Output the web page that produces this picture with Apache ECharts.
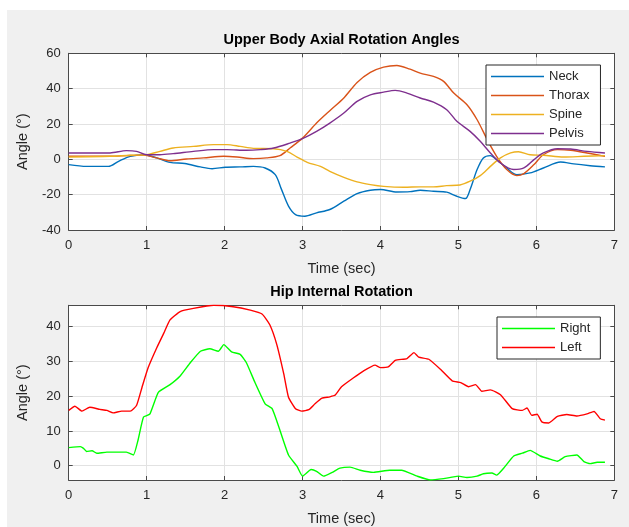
<!DOCTYPE html>
<html>
<head>
<meta charset="utf-8">
<script src="https://cdn.jsdelivr.net/npm/echarts@6/dist/echarts.min.js"></script>
<style>
  html, body { margin: 0; padding: 0; background: #ffffff; }
  #wrap { position: relative; width: 629px; height: 527px; overflow: hidden; }
  #fig { position: absolute; left: 7px; top: 10px; width: 622px; height: 517px; background: #f0f0f0; }
  #chart { position: absolute; left: 0; top: 0; width: 629px; height: 527px; }
</style>
</head>
<body>
<div id="wrap"><div id="fig"></div><div id="chart"></div></div>
<script>
// ---------- Data ----------
const topTitle = 'Upper Body Axial Rotation Angles';
const bottomTitle = 'Hip Internal Rotation';
const xName = 'Time (sec)';
const yName = 'Angle (°)';

const neckT = [0,0.23,0.51,0.64,0.79,0.96,1.13,1.30,1.49,1.69,1.84,2.01,2.2,2.37,2.52,2.65,2.73,2.82,2.91,3.03,3.18,3.35,3.53,3.70,3.87,4.0,4.21,4.38,4.51,4.68,4.85,4.98,5.09,5.15,5.24,5.32,5.41,5.49,5.62,5.75,5.92,6.09,6.31,6.48,6.69,6.88];
const neckV = [-3.0,-4.0,-4.0,-1.1,1.7,2.6,0.8,-1.7,-2.4,-4.3,-5.3,-4.5,-4.3,-4.0,-4.9,-8.7,-17,-26.5,-31.3,-32.2,-30.3,-28.4,-23.7,-19.4,-17.5,-17.1,-18.5,-18.3,-17.5,-18.1,-18.6,-20.9,-22.2,-17.1,-5.8,0.8,2.1,-0.2,-4.9,-8.7,-7.7,-4.9,-1.5,-2.6,-3.6,-4.3];

const thoraxT = [0,0.53,0.74,0.96,1.13,1.30,1.51,1.73,1.99,2.16,2.37,2.54,2.71,2.84,3.0,3.18,3.35,3.53,3.70,3.87,4.04,4.21,4.38,4.51,4.68,4.81,4.94,5.11,5.24,5.37,5.49,5.62,5.75,5.84,5.97,6.09,6.27,6.44,6.65,6.88];
const thoraxV = [1.7,1.7,2.1,2.4,0.8,-0.8,0.2,0.8,1.7,1.3,0.4,0.8,2.1,6.4,12,20.5,27.5,34.7,43.5,49.2,52.2,53.1,51.0,48.8,46.9,44.1,37.5,30.9,22.4,11.1,1.7,-5.8,-9.2,-8.1,-3.0,2.6,5.5,5.1,3.6,1.7];

const spineT = [0,0.53,0.79,1.0,1.17,1.34,1.60,1.86,2.03,2.2,2.37,2.63,2.80,2.93,3.06,3.23,3.35,3.53,3.70,3.87,4.04,4.30,4.51,4.68,4.85,5.02,5.15,5.28,5.41,5.54,5.67,5.77,5.92,6.09,6.35,6.61,6.88];
const spineV = [1.3,1.7,2.3,2.6,4.5,6.4,7.3,8.3,8.3,7.3,6.2,6.0,4.5,1.3,-1.7,-4.0,-6.8,-10.2,-12.8,-14.3,-15.3,-15.8,-15.6,-15.6,-14.9,-14.5,-12.4,-9.2,-4.0,0.8,3.6,4.3,2.6,2.3,1.3,1.7,2.1];

const pelvisT = [0,0.53,0.74,0.87,1.0,1.17,1.34,1.60,1.86,2.03,2.28,2.46,2.63,2.84,3.0,3.18,3.35,3.53,3.70,3.87,4.04,4.19,4.34,4.51,4.68,4.85,4.98,5.15,5.28,5.41,5.54,5.71,5.84,5.97,6.09,6.27,6.44,6.65,6.88];
const pelvisV = [3.6,3.6,4.9,4.5,2.6,2.6,3.2,4.5,5.5,5.5,5.1,5.5,6.4,9.2,11.7,15.8,20.5,26.2,32.8,36.5,38.0,39.0,37.5,34.7,32.4,28.1,21.5,15.8,10.2,3.6,-2.1,-5.8,-4.9,-0.2,3.6,6.0,5.8,4.5,3.6];

const rightT = [0,0.15,0.19,0.23,0.30,0.36,0.49,0.74,0.83,0.89,0.96,1.04,1.15,1.30,1.43,1.56,1.69,1.81,1.92,1.99,2.09,2.20,2.28,2.39,2.52,2.61,2.71,2.82,2.93,3.0,3.11,3.18,3.27,3.38,3.48,3.61,3.74,3.91,4.12,4.27,4.47,4.64,4.81,5.0,5.11,5.24,5.32,5.43,5.49,5.58,5.71,5.82,5.92,6.05,6.16,6.27,6.37,6.52,6.61,6.69,6.78,6.88];
const rightV = [5.2,5.5,5.0,4.1,4.3,3.6,3.9,3.9,3.1,7.4,14.0,14.8,21.1,23.3,25.8,29.6,32.9,33.6,32.9,34.8,32.7,32.0,29.6,23.9,17.8,16.4,10.2,3.1,-0.2,-3.0,-1.1,-1.6,-3.0,-1.9,-0.7,-0.4,-1.3,-1.9,-1.3,-1.3,-3.0,-4.1,-3.7,-3.0,-3.4,-3.0,-2.3,-2.1,-2.7,-0.7,2.8,3.6,4.4,2.8,2.0,1.3,2.6,3.1,1.2,0.6,1.0,1.0];

const leftT = [0,0.08,0.17,0.27,0.40,0.49,0.57,0.68,0.79,0.87,0.94,1.02,1.13,1.22,1.30,1.43,1.60,1.86,2.11,2.33,2.48,2.58,2.67,2.76,2.82,2.91,2.99,3.08,3.16,3.25,3.35,3.42,3.50,3.65,3.78,3.93,4.0,4.10,4.19,4.34,4.43,4.49,4.62,4.77,4.92,5.03,5.13,5.22,5.30,5.41,5.54,5.69,5.82,5.88,5.94,6.01,6.07,6.16,6.27,6.39,6.52,6.65,6.74,6.82,6.88];
const leftV = [15.9,17.1,15.7,16.8,16.2,15.9,15.2,15.7,15.7,17.3,22.5,28.2,33.9,38.1,41.9,44.3,45.2,46.1,45.7,44.7,43.6,40.5,34.8,26.3,19.7,16.4,15.7,16.1,17.8,19.4,19.8,20.3,22.7,25.2,27.2,28.9,28.2,28.4,30.3,30.8,32.5,31.2,30.6,27.7,24.4,23.9,22.7,23.3,21.4,21.8,20.4,16.4,15.9,16.6,14.5,14.8,12.6,12.3,14.2,14.7,14.3,14.9,15.6,13.5,13.1];

const topNames = ['Neck', 'Thorax', 'Spine', 'Pelvis'];
const bottomNames = ['Right', 'Left'];

// ---------- Styling ----------
const FONT = '"Liberation Sans", Arial, Helvetica, sans-serif';
const AX = '#4a4a4a';
const TXT = '#262626';
const GRIDC = '#e2e2e2';
const colors = { Neck: '#0072BD', Thorax: '#D95319', Spine: '#EDB120', Pelvis: '#7E2F8E', Right: '#00FF00', Left: '#FF0000' };

function zip(t, v) { return t.map((x, i) => [x, v[i]]); }

function mainX(gi) {
  return {
    gridIndex: gi, type: 'value', min: 0, max: 7, interval: 1, position: 'bottom',
    axisLine: { onZero: false, lineStyle: { color: AX, width: 1 } },
    axisTick: { inside: true, length: 4, lineStyle: { color: AX } },
    axisLabel: { margin: 9, fontSize: 13, color: TXT, fontFamily: FONT },
    splitLine: { show: true, lineStyle: { color: GRIDC, width: 1 } },
    name: xName, nameLocation: 'middle', nameGap: 31,
    nameTextStyle: { fontSize: 14.5, color: TXT, fontFamily: FONT }
  };
}
function boxX(gi) {
  return {
    gridIndex: gi, type: 'value', min: 0, max: 7, interval: 1, position: 'top',
    axisLine: { onZero: false, lineStyle: { color: AX, width: 1 } },
    axisTick: { inside: true, length: 4, lineStyle: { color: AX } },
    axisLabel: { show: false }, splitLine: { show: false }
  };
}
function mainY(gi, min, max, interval, fmt) {
  const o = {
    gridIndex: gi, type: 'value', min: min, max: max, position: 'left',
    axisLine: { show: true, onZero: false, lineStyle: { color: AX, width: 1 } },
    axisTick: { show: true, inside: true, length: 4, lineStyle: { color: AX } },
    axisLabel: { margin: 8, fontSize: 13, color: TXT, fontFamily: FONT },
    splitLine: { show: true, lineStyle: { color: GRIDC, width: 1 } },
    name: yName, nameLocation: 'middle', nameGap: 38,
    nameTextStyle: { fontSize: 14.5, color: TXT, fontFamily: FONT }
  };
  if (interval) o.interval = interval;
  if (fmt) o.axisLabel.formatter = fmt;
  return o;
}
function boxY(gi, min, max, interval) {
  const o = {
    gridIndex: gi, type: 'value', min: min, max: max, position: 'right',
    axisLine: { show: true, onZero: false, lineStyle: { color: AX, width: 1 } },
    axisTick: { show: true, inside: true, length: 4, lineStyle: { color: AX } },
    axisLabel: { show: false }, splitLine: { show: false }
  };
  if (interval) o.interval = interval;
  return o;
}
const tenFmt = v => (Math.abs(v % 10) < 1e-9 ? String(v) : '');

function lineSeries(name, t, v, xi, yi, smooth) {
  return {
    name: name, type: 'line', xAxisIndex: xi, yAxisIndex: yi,
    data: zip(t, v), symbol: 'none', showSymbol: false, smooth: smooth,
    lineStyle: { color: colors[name], width: 1.4 }, itemStyle: { color: colors[name] },
    clip: true
  };
}

const legendCommon = {
  orient: 'vertical', icon: 'rect', itemWidth: 53, itemHeight: 1.5, itemGap: 6, itemTextGap: 5,
  backgroundColor: '#ffffff', borderColor: '#262626', borderWidth: 1, borderRadius: 0,
  textStyle: { fontSize: 13, lineHeight: 13, color: TXT, fontFamily: FONT }
};

const chart = echarts.init(document.getElementById('chart'), null, { renderer: 'canvas' });
chart.setOption({
  animation: false,
  backgroundColor: 'transparent',
  textStyle: { fontFamily: FONT },
  title: [
    { text: topTitle, left: 341.5, top: 32, textAlign: 'center', padding: 0,
      textStyle: { fontSize: 14.5, fontWeight: 'bold', color: '#000', fontFamily: FONT } },
    { text: bottomTitle, left: 341.5, top: 284, textAlign: 'center', padding: 0,
      textStyle: { fontSize: 14.5, fontWeight: 'bold', color: '#000', fontFamily: FONT } }
  ],
  grid: [
    { left: 68.7, right: 14.7, top: 53.3, height: 176.7, show: true, backgroundColor: '#ffffff', borderWidth: 0 },
    { left: 68.7, right: 14.7, top: 305.3, height: 176, show: true, backgroundColor: '#ffffff', borderWidth: 0 }
  ],
  legend: [
    Object.assign({}, legendCommon, { data: topNames, left: 486, top: 65, padding: [5, 11, 5, 5] }),
    Object.assign({}, legendCommon, { data: bottomNames, left: 497, top: 317, padding: [5, 10, 5, 5] })
  ],
  xAxis: [mainX(0), boxX(0), mainX(1), boxX(1)],
  yAxis: [
    mainY(0, -40, 60, 20), boxY(0, -40, 60, 20),
    mainY(1, -4.1, 46.1, null, tenFmt), boxY(1, -4.1, 46.1, null)
  ],
  series: [
    lineSeries('Neck', neckT, neckV, 0, 0, 0.3),
    lineSeries('Thorax', thoraxT, thoraxV, 0, 0, 0.3),
    lineSeries('Spine', spineT, spineV, 0, 0, 0.3),
    lineSeries('Pelvis', pelvisT, pelvisV, 0, 0, 0.3),
    lineSeries('Right', rightT, rightV, 2, 2, 0.15),
    lineSeries('Left', leftT, leftV, 2, 2, 0.15)
  ]
});
</script>
</body>
</html>
